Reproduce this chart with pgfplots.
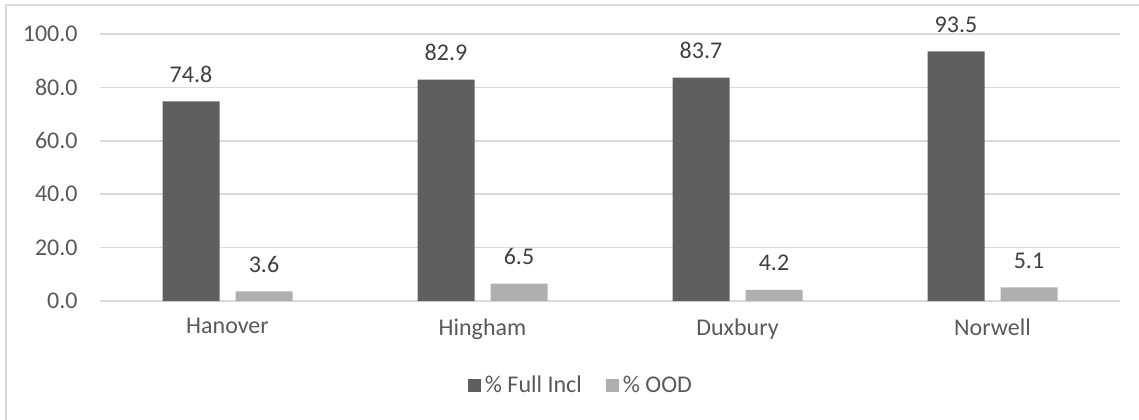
\documentclass[border=0pt]{standalone}
\usepackage{pgfplots}
\pgfplotsset{compat=1.18}
\usepackage{fontspec}
\setmainfont{Carlito}
\definecolor{darkbar}{HTML}{5F5F5F}
\definecolor{lightbar}{HTML}{AFAFAF}
\definecolor{gridc}{HTML}{D9D9D9}
\definecolor{txt}{HTML}{595959}
\definecolor{lbl}{HTML}{404040}
\begin{document}
\begin{tikzpicture}
\path[use as bounding box] (0,0) rectangle (569.5pt,-209.5pt);
\draw[gridc, line width=0.8pt] (3pt,-215pt) -- (3pt,-2.5pt) -- (575pt,-2.5pt);
\begin{axis}[
  at={(50pt,-150.5pt)}, anchor=south west,
  scale only axis, width=510pt, height=133.5pt,
  xmin=-0.5, xmax=3.5, ymin=0, ymax=100,
  ybar=8pt, bar width=28.5pt,
  axis line style={draw=none},
  ytick={0,20,40,60,80,100},
  ymajorgrids, grid style={gridc, line width=0.8pt},
  major tick length=0pt,
  xtick={0,1,2,3},
  xticklabels={Hanover,Hingham,Duxbury,Norwell},
  /pgf/number format/assume math mode=true,
  yticklabel={\pgfmathprintnumber[fixed,fixed zerofill,precision=1]{\tick}},
  tick label style={font=\fontsize{12}{14}\selectfont, color=txt},
  yticklabel style={anchor=east, inner sep=0pt, xshift=-11pt},
  xticklabel style={anchor=north, inner sep=0pt, yshift=-8.5pt},
  nodes near coords={\pgfmathprintnumber[fixed,fixed zerofill,precision=1,assume math mode=true]{\pgfplotspointmeta}},
  every node near coord/.append style={font=\fontsize{12}{14}\selectfont, color=lbl, anchor=south, inner sep=0pt, yshift=9.3pt},
  legend style={at={(0.4725,-0.318)}, anchor=center, draw=none, fill=none,
    legend columns=2, font=\fontsize{12}{14}\selectfont, text=txt,
    /tikz/every even column/.append style={column sep=10pt}},
  legend image code/.code={\fill[#1] (0pt,-3.25pt) rectangle (6.5pt,3.25pt);},
  clip=false,
]
\draw[gridc, line width=0.8pt] (axis cs:-0.5,0) -- (axis cs:3.5,0);
\addplot[fill=darkbar, draw=none] coordinates {(0,74.8) (1,82.9) (2,83.7) (3,93.5)};
\addplot[fill=lightbar, draw=none] coordinates {(0,3.6) (1,6.5) (2,4.2) (3,5.1)};
\legend{\% Full Incl, \% OOD}
\end{axis}
\end{tikzpicture}
\end{document}
